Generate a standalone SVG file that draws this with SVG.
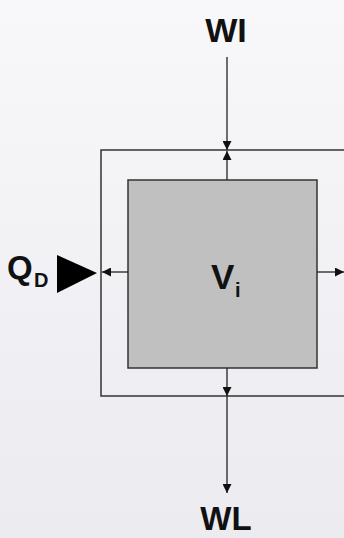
<svg xmlns="http://www.w3.org/2000/svg" width="344" height="538" viewBox="0 0 344 538">
<defs>
<linearGradient id="bg" x1="0" y1="0" x2="0" y2="1">
<stop offset="0" stop-color="#f8f8fa"/>
<stop offset="1" stop-color="#ebebf0"/>
</linearGradient>
<marker id="ah" viewBox="0 0 10 10" refX="10" refY="5" markerWidth="9" markerHeight="9" markerUnits="userSpaceOnUse" orient="auto">
<path d="M0,0 L10,5 L0,10 Z" fill="#111"/>
</marker>
<style>
.lbl{font-family:"Liberation Sans",Arial,sans-serif;font-weight:bold;fill:#111}
.ln{stroke:#222;stroke-width:1.3;fill:none}
.box{stroke:#333;stroke-width:1.5}
</style>
</defs>
<rect width="344" height="538" fill="url(#bg)"/>
<g id="outer"><rect class="box" x="101" y="150" width="260" height="246" fill="none"/></g>
<g id="volume"><rect class="box" x="128" y="180" width="189" height="188" fill="#c0c0c0"/>
<text class="lbl" x="211" y="289" font-size="35">V</text><text class="lbl" x="235" y="297" font-size="20">i</text></g>
<g id="wi"><text class="lbl" x="226" y="42" font-size="34" text-anchor="middle">WI</text></g>
<g id="wl"><text class="lbl" x="226" y="530" font-size="33" text-anchor="middle">WL</text></g>
<g id="qd"><text class="lbl" x="7" y="279" font-size="33">Q</text><text class="lbl" x="34" y="287" font-size="20">D</text>
<path d="M57,255 L97,273 L57,293 Z" fill="#000"/></g>
<g id="connectors">
<line class="ln" x1="227" y1="57" x2="227" y2="150" marker-end="url(#ah)"/>
<line class="ln" x1="227" y1="180" x2="227" y2="151" marker-end="url(#ah)"/>
<line class="ln" x1="227" y1="368" x2="227" y2="396" marker-end="url(#ah)"/>
<line class="ln" x1="227" y1="396" x2="227" y2="493" marker-end="url(#ah)"/>
<line class="ln" x1="128" y1="272" x2="102" y2="272" marker-end="url(#ah)"/>
<line class="ln" x1="317" y1="272" x2="344" y2="272" marker-end="url(#ah)"/>
</g>
</svg>
